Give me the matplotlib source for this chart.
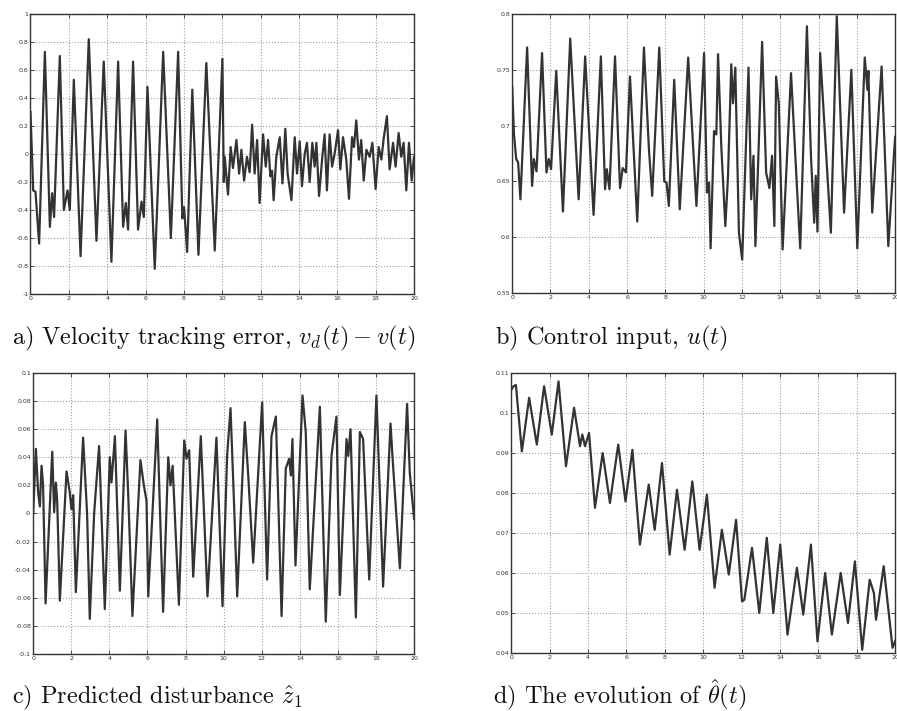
import numpy as np
import matplotlib
matplotlib.use("Agg")
import matplotlib.pyplot as plt
from matplotlib.ticker import FuncFormatter, MultipleLocator

# a) velocity tracking error (peaks / troughs read off the scan)
t_a = [0.0, 0.05, 0.14, 0.26, 0.45, 0.75, 1.01, 1.13, 1.23, 1.53, 1.74, 1.93, 2.05, 2.26,
       2.61, 3.04, 3.44, 3.82, 4.22, 4.57, 4.83, 4.97, 5.09, 5.35, 5.61, 5.79, 5.91, 6.10,
       6.48, 6.92, 7.32, 7.70, 7.92, 8.01, 8.17, 8.44, 8.76, 9.17, 9.61, 10.01, 10.08, 10.13,
       10.30, 10.44, 10.56, 10.74, 10.88, 11.00, 11.14, 11.29, 11.43, 11.56, 11.69, 11.82,
       11.95, 12.13, 12.27, 12.39, 12.51, 12.60, 12.68, 12.82, 13.00, 13.14, 13.29, 13.41,
       13.61, 13.78, 13.90, 14.04, 14.16, 14.30, 14.42, 14.56, 14.70, 14.82, 14.91, 15.05,
       15.22, 15.34, 15.46, 15.60, 15.73, 15.86, 16.04, 16.16, 16.30, 16.47, 16.61, 16.77,
       16.87, 16.99, 17.13, 17.25, 17.38, 17.52, 17.69, 17.83, 18.00, 18.16, 18.30, 18.42,
       18.59, 18.73, 18.91, 19.04, 19.20, 19.34, 19.46, 19.60, 19.74, 19.88, 20.0]
err_a = [0.30, 0.10, -0.26, -0.27, -0.64, 0.73, -0.52, -0.28, -0.45, 0.70, -0.40, -0.26, -0.40,
         0.53, -0.73, 0.82, -0.62, 0.66, -0.77, 0.66, -0.52, -0.35, -0.54, 0.66, -0.54, -0.34,
         -0.45, 0.48, -0.82, 0.73, -0.60, 0.73, -0.46, -0.38, -0.70, 0.46, -0.72, 0.65, -0.69,
         0.68, -0.20, -0.02, -0.29, 0.05, -0.10, 0.10, -0.14, 0.03, -0.19, -0.02, -0.13, 0.21,
         -0.14, 0.10, -0.35, 0.14, -0.09, 0.10, -0.16, -0.12, -0.33, -0.02, 0.12, -0.21, 0.18,
         -0.14, -0.33, 0.12, -0.14, 0.09, -0.23, 0.0, 0.08, -0.20, 0.08, -0.09, 0.08, -0.30,
         -0.02, 0.14, -0.26, 0.14, -0.09, 0.0, 0.17, -0.11, 0.12, -0.04, -0.32, 0.12, 0.05,
         0.24, -0.04, 0.10, -0.19, 0.03, -0.02, 0.08, -0.25, 0.05, -0.04, 0.11, 0.27, -0.11,
         0.08, -0.09, 0.15, -0.02, 0.08, -0.26, 0.08, -0.19, -0.02]

# b) control input u(t)
t_b = [0.0, 0.09, 0.21, 0.31, 0.43, 0.78, 1.04, 1.13, 1.27, 1.56, 1.79, 1.91, 2.03, 2.30,
       2.65, 3.03, 3.47, 3.81, 4.25, 4.63, 4.85, 4.94, 5.08, 5.37, 5.63, 5.77, 5.94, 6.15,
       6.53, 6.88, 7.14, 7.31, 7.68, 7.94, 8.06, 8.18, 8.46, 8.75, 9.19, 9.62, 10.02, 10.17,
       10.28, 10.36, 10.54, 10.66, 10.75, 10.92, 11.13, 11.27, 11.44, 11.53, 11.65, 11.84,
       12.01, 12.34, 12.48, 12.60, 12.70, 13.05, 13.26, 13.43, 13.57, 13.69, 13.78, 13.92,
       14.12, 14.56, 14.82, 15.04, 15.39, 15.60, 15.77, 15.85, 15.94, 16.08, 16.64, 16.95,
       17.33, 17.71, 18.02, 18.41, 18.55, 18.60, 18.80, 19.29, 19.64, 19.93, 20.0]
u_b = [0.735, 0.693, 0.670, 0.667, 0.634, 0.770, 0.646, 0.670, 0.659, 0.765, 0.658, 0.670,
       0.661, 0.749, 0.623, 0.778, 0.634, 0.762, 0.620, 0.762, 0.643, 0.661, 0.643, 0.762,
       0.644, 0.662, 0.658, 0.744, 0.614, 0.770, 0.679, 0.637, 0.770, 0.650, 0.649, 0.628,
       0.741, 0.625, 0.761, 0.628, 0.765, 0.640, 0.649, 0.590, 0.695, 0.692, 0.764, 0.681,
       0.610, 0.655, 0.755, 0.720, 0.752, 0.604, 0.580, 0.752, 0.634, 0.673, 0.592, 0.775,
       0.658, 0.644, 0.673, 0.610, 0.744, 0.720, 0.589, 0.747, 0.661, 0.590, 0.789, 0.673,
       0.613, 0.655, 0.605, 0.765, 0.604, 0.798, 0.622, 0.750, 0.590, 0.761, 0.732, 0.749,
       0.622, 0.753, 0.592, 0.673, 0.690]

# c) predicted disturbance z1 hat
t_c = [0.0, 0.14, 0.26, 0.35, 0.44, 0.52, 0.65, 1.00, 1.10, 1.19, 1.26, 1.40, 1.75, 1.92,
       2.01, 2.10, 2.24, 2.62, 2.83, 2.97, 3.20, 3.29, 3.46, 3.76, 4.02, 4.11, 4.29, 4.55,
       4.85, 4.99, 5.21, 5.63, 5.81, 5.95, 6.04, 6.51, 6.82, 7.09, 7.21, 7.32, 7.65, 7.93,
       8.05, 8.19, 8.40, 8.80, 9.15, 9.62, 9.94, 10.18, 10.36, 10.55, 10.71, 11.11, 11.29,
       11.55, 12.02, 12.28, 12.51, 12.74, 13.04, 13.26, 13.44, 13.53, 13.61, 13.77, 14.14,
       14.31, 14.52, 15.05, 15.36, 15.66, 15.92, 16.10, 16.45, 16.54, 16.66, 16.94, 17.15,
       17.32, 17.64, 18.02, 18.37, 18.76, 18.86, 19.25, 19.63, 19.77, 20.0]
z_c = [0.0, 0.046, 0.015, 0.005, 0.034, 0.020, -0.064, 0.044, 0.001, 0.022, 0.009, -0.062,
       0.030, 0.015, 0.003, 0.013, -0.056, 0.054, 0.0, -0.075, 0.0, 0.017, 0.048, -0.068,
       0.040, 0.022, 0.055, -0.055, 0.059, 0.013, -0.073, 0.038, 0.020, 0.009, -0.059, 0.067,
       -0.070, 0.040, 0.020, 0.034, -0.065, 0.052, 0.039, 0.045, -0.045, 0.055, -0.059, 0.054,
       -0.066, 0.041, 0.075, 0.005, -0.059, 0.065, 0.027, -0.035, 0.079, -0.047, 0.055, 0.069,
       -0.073, 0.032, 0.039, 0.027, 0.053, -0.037, 0.084, 0.058, -0.054, 0.076, -0.077, 0.041,
       0.069, -0.058, 0.053, 0.041, 0.060, -0.074, 0.058, 0.053, -0.047, 0.084, -0.052, 0.064,
       0.041, -0.039, 0.078, 0.029, -0.004]

# d) evolution of theta hat
t_d = [0.0, 0.12, 0.24, 0.55, 0.93, 1.33, 1.71, 2.11, 2.46, 2.85, 3.27, 3.58, 3.70, 3.84,
       4.05, 4.36, 4.76, 5.14, 5.57, 5.95, 6.31, 6.70, 7.16, 7.47, 7.85, 8.25, 8.63, 9.03,
       9.43, 9.81, 10.19, 10.59, 10.97, 11.16, 11.33, 11.71, 12.02, 12.14, 12.54, 12.92,
       13.31, 13.65, 14.01, 14.39, 14.88, 15.21, 15.61, 15.95, 16.35, 16.70, 17.16, 17.54,
       17.90, 18.28, 18.67, 18.89, 19.00, 19.40, 19.86, 20.0]
th_d = [0.1058, 0.1067, 0.1070, 0.0904, 0.1038, 0.0921, 0.1067, 0.0946, 0.1079, 0.0867,
        0.1013, 0.0917, 0.0946, 0.0917, 0.0950, 0.0763, 0.0900, 0.0775, 0.0921, 0.0779,
        0.0908, 0.0671, 0.0821, 0.0708, 0.0875, 0.0646, 0.0808, 0.0658, 0.0829, 0.0658,
        0.0796, 0.0563, 0.0708, 0.0650, 0.0596, 0.0733, 0.0529, 0.0533, 0.0663, 0.0500,
        0.0688, 0.0500, 0.0671, 0.0446, 0.0613, 0.0496, 0.0671, 0.0429, 0.0600, 0.0446,
        0.0600, 0.0475, 0.0629, 0.0408, 0.0583, 0.0550, 0.0483, 0.0617, 0.0413, 0.0430]

captions = [r"a) Velocity tracking error, $v_d(t) - v(t)$",
            r"b) Control input, $u(t)$",
            r"c) Predicted disturbance $\hat{z}_1$",
            r"d) The evolution of $\hat{\theta}(t)$"]

plt.rcParams['mathtext.fontset'] = 'cm'
plt.rcParams['axes.unicode_minus'] = False

fig = plt.figure(figsize=(8.97, 7.11), dpi=100)

panels = [
    ([0.034, 0.5865, 0.4275, 0.3938], t_a, err_a, (-1, 1), 0.2),
    ([0.571, 0.5879, 0.4270, 0.3924], t_b, u_b, (0.55, 0.8), 0.05),
    ([0.037, 0.0802, 0.4247, 0.3952], t_c, z_c, (-0.1, 0.1), 0.02),
    ([0.570, 0.0816, 0.4280, 0.3938], t_d, th_d, (0.04, 0.11), 0.01),
]

fmt = FuncFormatter(lambda v, p: "%g" % round(v, 6))

for rect, x, y, ylim, ystep in panels:
    ax = fig.add_axes(rect)
    ax.plot(x, y, color='#333333', lw=1.6)
    ax.set_xlim(0, 20)
    ax.set_ylim(*ylim)
    ax.xaxis.set_major_locator(MultipleLocator(2))
    ax.yaxis.set_major_locator(MultipleLocator(ystep))
    ax.xaxis.set_major_formatter(fmt)
    ax.yaxis.set_major_formatter(fmt)
    ax.grid(True, linestyle=':', color='0.62', lw=0.8)
    ax.tick_params(direction='in', length=3, width=0.6, labelsize=4.5,
                   colors='#333333', pad=1.5, top=True, right=True)
    for s in ax.spines.values():
        s.set_linewidth(1.0)
        s.set_color('#333333')

cap_pos = [(0.013, 0.515), (0.552, 0.515), (0.013, 0.010), (0.550, 0.010)]
for (cx, cy), txt in zip(cap_pos, captions):
    fig.text(cx, cy, txt, family='cmr10', fontsize=17.5, color='#111111',
             ha='left', va='baseline')

fig.savefig("out.png", dpi=100)
